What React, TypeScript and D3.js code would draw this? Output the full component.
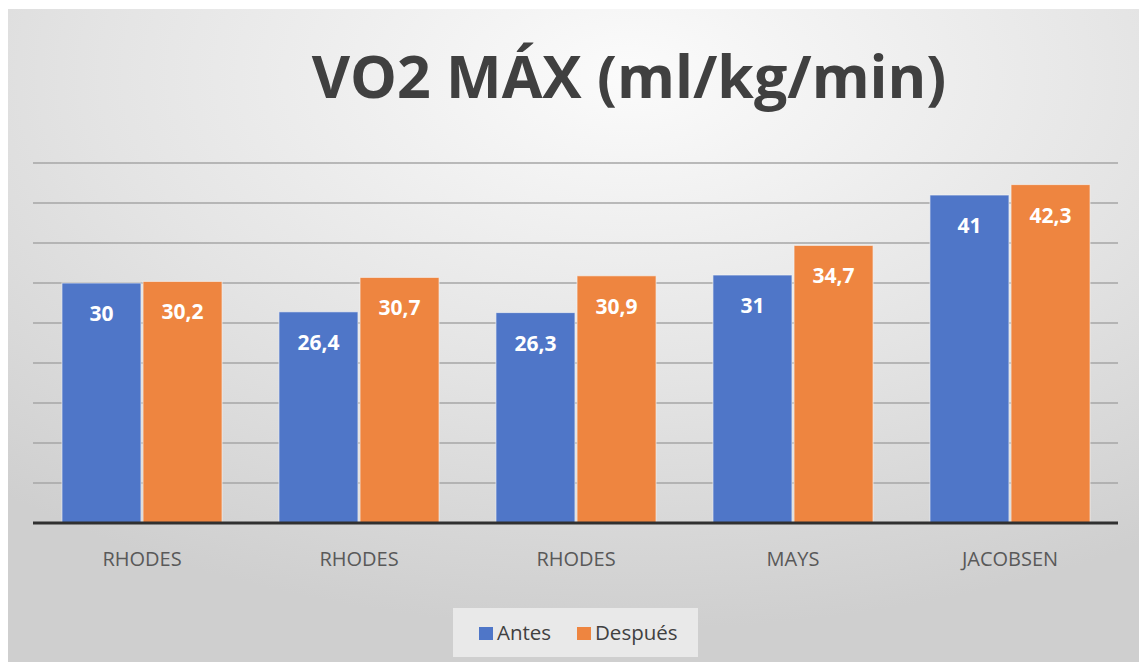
import React from "react";
import * as d3 from "d3";

const categories = ["RHODES", "RHODES", "RHODES", "MAYS", "JACOBSEN"];
const seriesNames = ["Antes", "Después"];
const antes = [30, 26.4, 26.3, 31, 41];
const despues = [30.2, 30.7, 30.9, 34.7, 42.3];
const gridTicks = [0, 5, 10, 15, 20, 25, 30, 35, 40, 45];
const colors = ["#4f76c8", "#ee8540"];

const W = 1139;
const H = 662;

export default function App() {
  const x0 = d3.scaleBand<number>().domain(d3.range(categories.length)).range([33.5, 1118.5]).paddingInner(0.262).paddingOuter(0.131);
  const x1 = d3.scaleBand<number>().domain([0, 1]).range([0, x0.bandwidth()]).paddingInner(0.025);
  const y = d3.scaleLinear().domain([0, 45]).range([523, 163]);
  const series = [antes, despues];
  const fmt = (v: number) => String(v).replace(".", ",");

  return (
    <svg width={W} height={H} style={{ display: "block", position: "absolute", left: 0, top: 0 }}>
      <defs>
        <radialGradient id="bg" cx="0.55" cy="0.1" r="0.85" gradientUnits="objectBoundingBox">
          <stop offset="0" stopColor="#fbfbfb" />
          <stop offset="0.55" stopColor="#e4e4e4" />
          <stop offset="1" stopColor="#cfcfcf" />
        </radialGradient>
      </defs>
      <rect x={0} y={0} width={W} height={H} fill="#ffffff" />
      <rect x={8} y={9} width={W - 8} height={H - 9} fill="url(#bg)" />
      <text x={629} y={98} textAnchor="middle" fontFamily="'Open Sans', sans-serif" fontWeight="bold" fontSize={59} fill="#404040">
        VO2 MÁX (ml/kg/min)
      </text>
      {gridTicks.slice(1).map((t) => (
        <line key={t} x1={33} x2={1118} y1={y(t)} y2={y(t)} stroke="#a6a6a6" strokeWidth={1.5} />
      ))}
      {series.map((vals, si) =>
        vals.map((v, i) => {
          const bx = (x0(i) as number) + (x1(si) as number);
          return (
            <g key={`${si}-${i}`}>
              <rect x={bx} y={y(v)} width={x1.bandwidth()} height={y(0) - y(v)} fill={colors[si]} stroke="#f4f4f4" strokeWidth={1} strokeOpacity={0.7} />
              <text x={bx + x1.bandwidth() / 2} y={y(v) + 38} textAnchor="middle" fontFamily="'Open Sans', sans-serif" fontWeight="bold" fontSize={21} fill="#ffffff">
                {fmt(v)}
              </text>
            </g>
          );
        })
      )}
      <line x1={33} x2={1118} y1={y(0)} y2={y(0)} stroke="#303030" strokeWidth={3} />
      {categories.map((c, i) => (
        <text key={i} x={(x0(i) as number) + x0.bandwidth() / 2} y={566} textAnchor="middle" fontFamily="'Open Sans', sans-serif" fontSize={20} fill="#595959">
          {c}
        </text>
      ))}
      <rect x={453} y={608} width={245} height={49} fill="#e9e9e9" />
      {seriesNames.map((n, i) => {
        const lx = [479, 577][i];
        return (
          <g key={n}>
            <rect x={lx} y={627} width={14} height={13} fill={colors[i]} />
            <text x={lx + 18} y={640} fontFamily="'Open Sans', sans-serif" fontSize={20.5} fill="#404040">
              {n}
            </text>
          </g>
        );
      })}
    </svg>
  );
}
